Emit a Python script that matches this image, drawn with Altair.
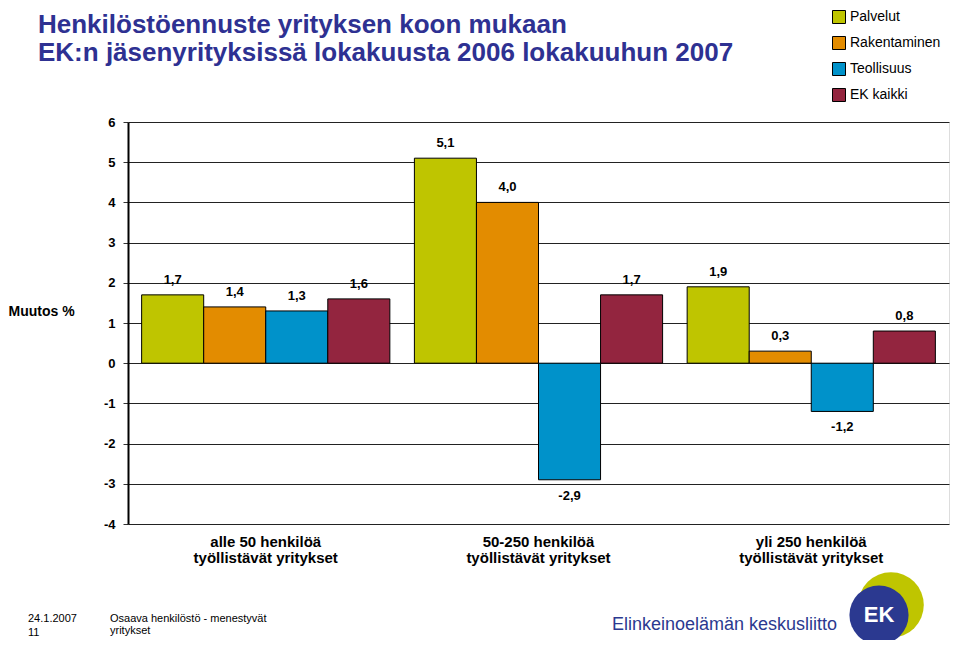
import altair as alt
import pandas as pd

groups = ["alle 50 henkilöä|työllistävät yritykset",
          "50-250 henkilöä|työllistävät yritykset",
          "yli 250 henkilöä|työllistävät yritykset"]
series = ["Palvelut", "Rakentaminen", "Teollisuus", "EK kaikki"]
colors = ["#BFC500", "#E38C00", "#0092CA", "#93253F"]

palvelut = [1.7, 5.1, 1.9]
rakentaminen = [1.4, 4.0, 0.3]
teollisuus = [1.3, -2.9, -1.2]
ek_kaikki = [1.6, 1.7, 0.8]

y_ticks = [-4, -3, -2, -1, 0, 1, 2, 3, 4, 5, 6]

title_lines = ["Henkilöstöennuste yrityksen koon mukaan",
               "EK:n jäsenyrityksissä lokakuusta 2006 lokakuuhun 2007"]
y_title = "Muutos %"
footer_date = "24.1.2007"
footer_page = "11"
footer_topic = ["Osaava henkilöstö - menestyvät", "yritykset"]
footer_org = "Elinkeinoelämän keskusliitto"
logo_text = "EK"

rows = []
for name, vals in zip(series, [palvelut, rakentaminen, teollisuus, ek_kaikki]):
    for g, v in zip(groups, vals):
        rows.append({"group": g, "series": name, "value": v,
                     "label": f"{v:.1f}".replace(".", ",")})
df = pd.DataFrame(rows)

FONT = "Liberation Sans"

x_enc = alt.X("group:N", sort=groups,
              scale=alt.Scale(paddingInner=0.09, paddingOuter=0.05),
              axis=alt.Axis(title=None, labelExpr="split(datum.label, '|')",
                            labelAngle=0, labelFontSize=15, labelFontWeight="bold",
                            labelFont=FONT, labelColor="black", labelLineHeight=16,
                            labelPadding=10, labelBaseline="top",
                            ticks=False, domain=False))
xo_enc = alt.XOffset("series:N", sort=series,
                     scale=alt.Scale(paddingInner=0, paddingOuter=0))
y_enc = alt.Y("value:Q", scale=alt.Scale(domain=[-4, 6], nice=False),
              axis=alt.Axis(values=y_ticks, title=y_title, titleAngle=0,
                            labelExpr="toString(datum.value)",
                            titleAlign="left", titleBaseline="middle",
                            titleX=-120, titleY=189, titleFontSize=14,
                            titleFontWeight="bold", titleFont=FONT, titleColor="black",
                            labelFontSize=13, labelFontWeight="bold", labelFont=FONT,
                            labelColor="black", labelPadding=8, tickSize=5,
                            tickColor="#333", domainColor="black", domainWidth=2,
                            grid=True, gridColor="#222", gridWidth=1))

base = alt.Chart(df)

bars = base.mark_bar(stroke="black", strokeWidth=1).encode(
    x=x_enc, xOffset=xo_enc, y=y_enc,
    color=alt.Color("series:N", sort=series,
                    scale=alt.Scale(domain=series, range=colors),
                    legend=alt.Legend(title=None, orient="none", legendX=704,
                                      legendY=-112, symbolType="square",
                                      symbolSize=169, symbolStrokeColor="black",
                                      symbolStrokeWidth=1, symbolOpacity=1,
                                      labelFontSize=14, labelFont=FONT,
                                      labelColor="black", rowPadding=8,
                                      labelOffset=4)))

lbl_pos = base.transform_filter("datum.value >= 0").mark_text(
    dy=-15, fontWeight="bold", fontSize=13, font=FONT, color="black").encode(
    x=x_enc, xOffset=xo_enc, y=y_enc, text="label:N")
lbl_neg = base.transform_filter("datum.value < 0").mark_text(
    dy=16, fontWeight="bold", fontSize=13, font=FONT, color="black").encode(
    x=x_enc, xOffset=xo_enc, y=y_enc, text="label:N")

one = pd.DataFrame({"k": [0]})

def note(txt, x, y, size=11, color="black", weight="normal", align="left"):
    return alt.Chart(one).mark_text(fontSize=size, font=FONT, color=color,
                                    fontWeight=weight, align=align,
                                    baseline="middle").encode(
        x=alt.value(x), y=alt.value(y), text=alt.value(txt))

t1 = note(title_lines[0], -90, -97, size=26, color="#2E3192", weight="bold")
t2 = note(title_lines[1], -90, -69, size=26, color="#2E3192", weight="bold")

f_date = note(footer_date, -100, 497)
f_page = note(footer_page, -100, 511)
f_t1 = note(footer_topic[0], -18, 497)
f_t2 = note(footer_topic[1], -18, 509)
f_org = note(footer_org, 484, 503, size=18, color="#2B3990")

logo_green = alt.Chart(one).mark_point(filled=True, shape="circle", color="#BFC500",
                                       opacity=1).encode(
    x=alt.value(763), y=alt.value(483), size=alt.value(4300))
logo_blue = alt.Chart(one).mark_point(filled=True, shape="circle", color="#2B3990",
                                      opacity=1).encode(
    x=alt.value(751), y=alt.value(493), size=alt.value(3500))
logo_ek = note(logo_text, 751, 493, size=22, color="white", weight="bold", align="center")

chart = alt.layer(bars, lbl_pos, lbl_neg, t1, t2, f_date, f_page, f_t1, f_t2, f_org,
                  logo_green, logo_blue, logo_ek).properties(
    width=821, height=402,
    autosize=alt.AutoSizeParams(type="none"),
    padding={"left": 120, "top": 114, "right": 2, "bottom": 116},
).configure_view(stroke="black", strokeWidth=2).configure(background="white")

chart.save("out.html", embed_options={"renderer": "svg", "actions": False})
